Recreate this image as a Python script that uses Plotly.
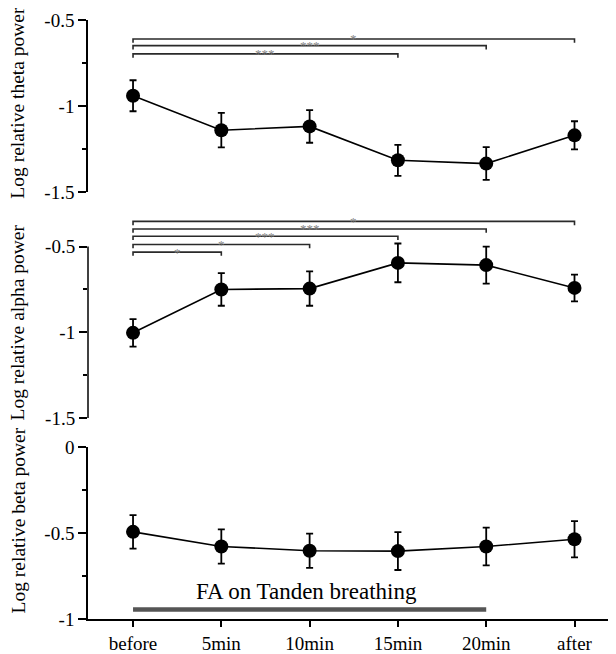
import plotly.graph_objects as go

# ---------------- data ----------------
categories = ["before", "5min", "10min", "15min", "20min", "after"]

theta_mean = [-0.94, -1.14, -1.118, -1.315, -1.334, -1.17]
theta_err = [0.09, 0.10, 0.095, 0.09, 0.095, 0.082]

alpha_mean = [-1.003, -0.75, -0.745, -0.595, -0.608, -0.741]
alpha_err = [0.08, 0.095, 0.10, 0.113, 0.108, 0.078]

beta_mean = [-0.493, -0.578, -0.603, -0.605, -0.578, -0.536]
beta_err = [0.097, 0.10, 0.10, 0.11, 0.11, 0.105]

# significance brackets (start index, end index, level, label)
theta_br_start = [0, 0, 0]
theta_br_end = [5, 4, 3]
theta_br_level = [-0.61, -0.649, -0.697]
theta_br_label = ["*", "***", "***"]

alpha_br_start = [0, 0, 0, 0, 0]
alpha_br_end = [5, 4, 3, 2, 1]
alpha_br_level = [-0.353, -0.397, -0.44, -0.488, -0.532]
alpha_br_label = ["*", "***", "***", "*", "*"]

# FA period
fa_start, fa_end = 0, 4
fa_level = -0.944
fa_label = "FA on Tanden breathing"

y_titles = ["Log relative theta power", "Log relative alpha power", "Log relative beta power"]
y_tickvals = {
    "theta": [-0.5, -1, -1.5],
    "alpha": [-0.5, -1, -1.5],
    "beta": [0, -0.5, -1],
}
y_ticktext = {
    "theta": ["-0.5", "-1", "-1.5"],
    "alpha": ["-0.5", "-1", "-1.5"],
    "beta": ["0", "-0.5", "-1"],
}

x = list(range(len(categories)))

FONT = "Liberation Serif"
fig = go.Figure()


def add_series(mean, err, yref):
    fig.add_trace(go.Scatter(
        x=x, y=mean, mode="lines+markers", xaxis="x", yaxis=yref,
        line=dict(color="black", width=1.6),
        marker=dict(color="black", size=14),
        error_y=dict(type="data", array=err, visible=True, color="black",
                     thickness=1.8, width=3.5),
        hoverinfo="skip", cliponaxis=False,
    ))


def add_brackets(starts, ends, levels, labels, yref, tick):
    for s, e, lv, lb in zip(starts, ends, levels, labels):
        fig.add_trace(go.Scatter(
            x=[s, s, e, e], y=[lv - tick, lv, lv, lv - tick], mode="lines",
            xaxis="x", yaxis=yref, line=dict(color="#2a2a2a", width=1.6),
            hoverinfo="skip", cliponaxis=False,
        ))
        fig.add_annotation(
            x=(s + e) / 2, y=lv, xref="x", yref=yref, text=lb, showarrow=False,
            font=dict(family=FONT, size=13, color="#888888"),
            yanchor="middle", yshift=0,
        )


add_series(theta_mean, theta_err, "y")
add_series(alpha_mean, alpha_err, "y2")
add_series(beta_mean, beta_err, "y3")

add_brackets(theta_br_start, theta_br_end, theta_br_level, theta_br_label, "y", 0.022)
add_brackets(alpha_br_start, alpha_br_end, alpha_br_level, alpha_br_label, "y2", 0.022)

# FA bar
fig.add_trace(go.Scatter(
    x=[fa_start, fa_end], y=[fa_level, fa_level], mode="lines",
    xaxis="x", yaxis="y3", line=dict(color="#555555", width=4.5),
    hoverinfo="skip", cliponaxis=False,
))
fig.add_annotation(
    x=(fa_start + fa_end) / 2 - 0.04, y=fa_level, xref="x", yref="y3",
    text=fa_label, showarrow=False, yanchor="bottom", yshift=3,
    font=dict(family=FONT, size=23, color="black"),
)

# y axis titles
title_centers = [0.862, 0.495, 0.1645]
for t, yc in zip(y_titles, title_centers):
    fig.add_annotation(
        x=-0.1326, y=yc, xref="paper", yref="paper", text=t, textangle=-90,
        showarrow=False, xanchor="center", yanchor="middle",
        font=dict(family=FONT, size=19.5, color="black"),
    )

# alpha axis line (only spans the tick range)
fig.add_shape(type="line", xref="paper", yref="y2", x0=0, x1=0, y0=-1.5, y1=-0.5,
              line=dict(color="black", width=1.5))

yax_common = dict(
    anchor="x", showgrid=False, zeroline=False, ticks="outside", ticklen=8,
    tickwidth=1.5, tickcolor="black", linecolor="black", linewidth=1.5,
    tickfont=dict(family=FONT, size=19, color="black"),
)

# page body has an 8px margin: plot area spans x 88..616, y 20..622 in the window
fig.update_layout(
    width=608, height=646,
    margin=dict(l=80, r=0, t=12, b=32),
    plot_bgcolor="white", paper_bgcolor="white", showlegend=False,
    font=dict(family=FONT, size=19, color="black"),
    xaxis=dict(
        domain=[0, 1], anchor="y3", range=[-0.51, 5.47],
        tickmode="array", tickvals=x, ticktext=categories,
        showline=True, linecolor="black", linewidth=1.5,
        ticks="outside", ticklen=6, tickwidth=1.5, tickcolor="black",
        showgrid=False, zeroline=False,
        tickfont=dict(family=FONT, size=19, color="black"),
    ),
    yaxis=dict(
        domain=[0.7126, 1.0], range=[-1.5, -0.5], showline=True,
        tickmode="array", tickvals=y_tickvals["theta"], ticktext=y_ticktext["theta"],
        minor=dict(tickvals=[-0.75, -1.25], ticks="outside", ticklen=4,
                   tickwidth=1.5, tickcolor="black"),
        **yax_common,
    ),
    yaxis2=dict(
        domain=[0.3355, 0.6761], range=[-1.5, -0.31], showline=False,
        tickmode="array", tickvals=y_tickvals["alpha"], ticktext=y_ticktext["alpha"],
        minor=dict(tickvals=[-0.75, -1.25], ticks="outside", ticklen=4,
                   tickwidth=1.5, tickcolor="black"),
        **yax_common,
    ),
    yaxis3=dict(
        domain=[0.0, 0.2869], range=[-1, 0], showline=True,
        tickmode="array", tickvals=y_tickvals["beta"], ticktext=y_ticktext["beta"],
        minor=dict(tickvals=[-0.25, -0.75], ticks="outside", ticklen=4,
                   tickwidth=1.5, tickcolor="black"),
        **yax_common,
    ),
)

fig.write_html("out.html")
